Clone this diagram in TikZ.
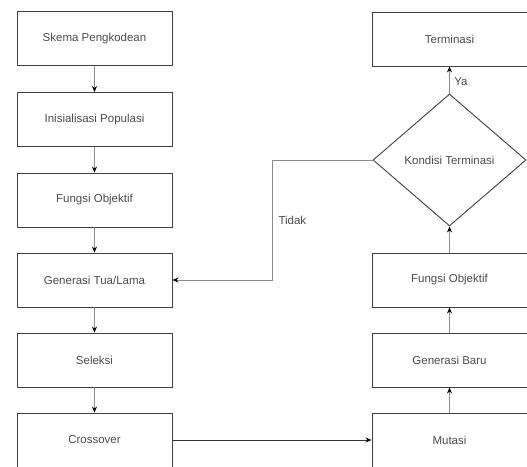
\documentclass[tikz,border=0pt]{standalone}
\usepackage{fontspec}
\setmainfont{Liberation Sans}
\usetikzlibrary{shapes.geometric,arrows.meta}
\begin{document}
\begin{tikzpicture}[x=1pt,y=-1pt,
  stepbox/.style={draw=black!75,line width=0.9pt,minimum width=155pt,minimum height=54pt,inner sep=0pt,font=\fontsize{11.5}{13}\selectfont,text=black!70},
  decbox/.style={draw=black!75,line width=0.9pt,shape=diamond,minimum width=153pt,minimum height=132pt,inner sep=0pt,font=\fontsize{11.5}{13}\selectfont,text=black!70},
  conn/.style={draw=black!45,line width=0.9pt,-{Stealth[length=6pt,width=5pt,black]}},
  lbl/.style={font=\fontsize{11.5}{13}\selectfont,text=black!70}]
\useasboundingbox (0,0) rectangle (527,466);
\clip (0,0) rectangle (527,466);
\node[stepbox] (skema) at (94.5,38.5) {Skema Pengkodean};
\node[stepbox] (inis) at (94.5,119.5) {Inisialisasi Populasi};
\node[stepbox] (fung1) at (94.5,200) {Fungsi Objektif};
\node[stepbox] (gentua) at (94.5,280) {Generasi Tua/Lama};
\node[stepbox] (sel) at (94.5,360) {Seleksi};
\node[stepbox] (cross) at (94.5,440) {Crossover};
\node[stepbox] (term) at (449.5,39) {Terminasi};
\node[decbox] (kond) at (449.5,160) {Kondisi Terminasi};
\node[stepbox] (fung2) at (449.5,280) {Fungsi Objektif};
\node[stepbox] (genbaru) at (449.5,360) {Generasi Baru};
\node[stepbox] (mut) at (449.5,440) {Mutasi};
\coordinate (bend1) at (272,160);
\coordinate (bend2) at (272,280);
\draw[conn] (skema) -- (inis);
\draw[conn] (inis) -- (fung1);
\draw[conn] (fung1) -- (gentua);
\draw[conn] (gentua) -- (sel);
\draw[conn] (sel) -- (cross);
\draw[conn,draw=black!80,line width=1pt] (cross) -- (mut);
\draw[conn] (mut) -- (genbaru);
\draw[conn] (genbaru) -- (fung2);
\draw[conn] (fung2) -- (kond);
\draw[conn] (kond) -- node[lbl,right,pos=0.45,xshift=1pt] (ya) {Ya} (term);
\draw[conn] (kond.west) -- (bend1) -- (bend2) -- (gentua);
\node[lbl,anchor=west] (tidak) at (275,220) {Tidak};
\end{tikzpicture}
\end{document}
